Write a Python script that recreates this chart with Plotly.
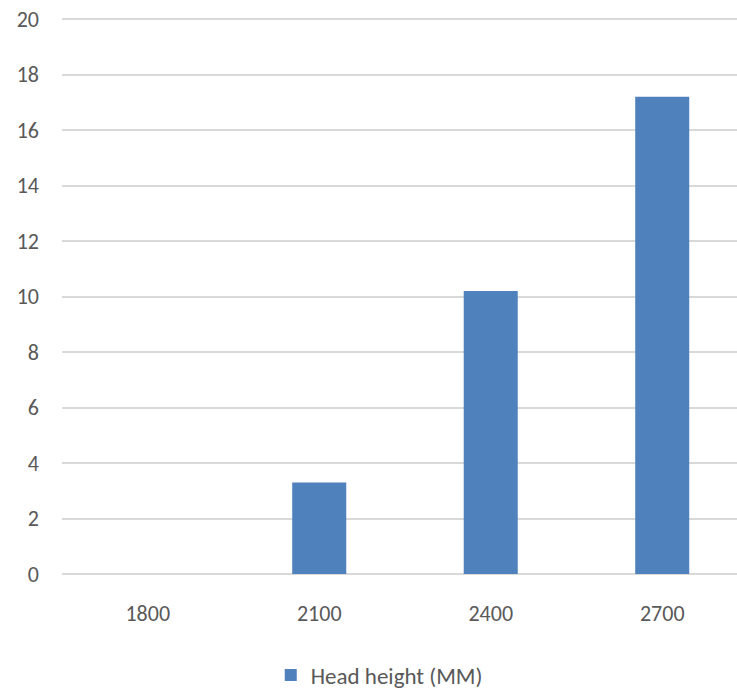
import plotly.graph_objects as go

categories = ["1800", "2100", "2400", "2700"]
values = [0, 3.3, 10.2, 17.2]
series_name = "Head height (MM)"
y_ticks = [0, 2, 4, 6, 8, 10, 12, 14, 16, 18, 20]

fig = go.Figure()
fig.add_trace(go.Bar(
    x=categories, y=values, name=series_name,
    marker=dict(color="#4F81BD", line=dict(width=0)),
))

font_family = "Carlito, Calibri, Lato, 'Open Sans', sans-serif"
fig.update_layout(
    width=737, height=693,
    margin=dict(l=62, r=0, t=18, b=119, autoexpand=False),
    paper_bgcolor="white", plot_bgcolor="white",
    bargap=0.685,
    showlegend=True,
    font=dict(family=font_family, size=22, color="#595959"),
    legend=dict(orientation="h", x=0.47, xanchor="center", yref="container",
                y=0.026, yanchor="middle", bgcolor="rgba(0,0,0,0)",
                itemwidth=30, font=dict(size=23, color="#595959")),
    xaxis=dict(type="category", range=[-0.5, 3.436], showgrid=False, showline=False,
               ticks="", ticklabelstandoff=24, tickfont=dict(size=22, color="#595959")),
    yaxis=dict(range=[0, 20.04], tickvals=y_ticks, showgrid=True, gridcolor="#d9d9d9",
               gridwidth=1.5, zeroline=True, zerolinecolor="#d9d9d9", zerolinewidth=1.5,
               showline=False, ticks="", ticklabelstandoff=22,
               tickfont=dict(size=22, color="#595959")),
)
fig.write_html("out.html", config={"displayModeBar": False},
               post_script="document.body.style.margin='0';document.body.style.overflow='hidden';")
